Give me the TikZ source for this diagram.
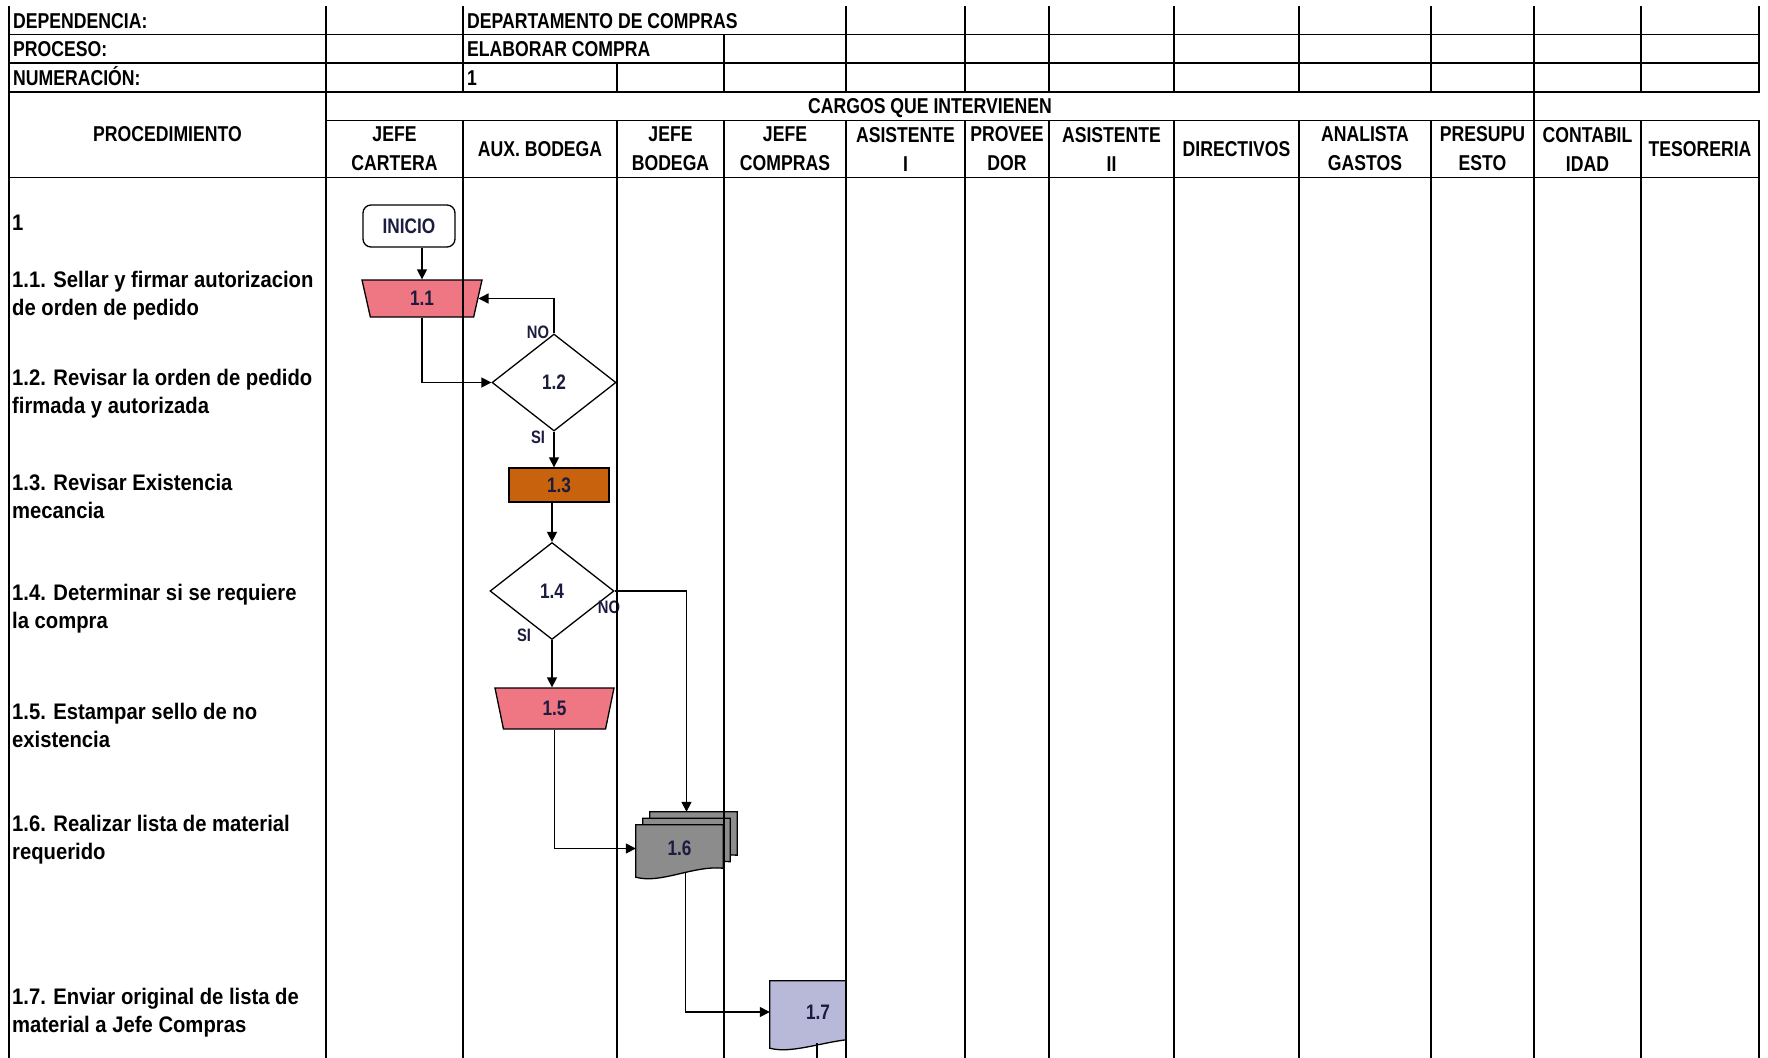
\documentclass[tikz,border=0pt]{standalone}
\usepackage{fontspec}
\setmainfont{Liberation Sans}
\newfontfamily\narrowfont{Liberation Sans}[FakeStretch=0.82]
\newfontfamily\bodyfont{Liberation Sans}[FakeStretch=0.9]
\usetikzlibrary{shapes.geometric,arrows.meta,calc}
\pgfdeclarelayer{paper}
\pgfdeclarelayer{shapes}
\pgfsetlayers{paper,shapes,main}
\definecolor{pinkfill}{HTML}{EF7683}
\definecolor{orangefill}{HTML}{C8620C}
\definecolor{grayfill}{HTML}{8C8C8C}
\definecolor{lavfill}{HTML}{B8B8D8}
\definecolor{navy}{HTML}{1C1C40}
\newcommand\docshape[2]{\draw[shapeline,fill=#2] (#1.north west) -- (#1.north east) -- ($(#1.south east)+(0,-4)$) .. controls ($(#1.south east)+(-30,-7)$) and ($(#1.south west)+(25,12)$) .. ($(#1.south west)+(0,5)$) -- cycle;}
\begin{document}
\begin{tikzpicture}[x=1pt,y=-1pt,
  grid/.style={line width=1.8pt,line cap=rect},
  hdr/.style={font=\narrowfont\bfseries\fontsize{21.5}{29}\selectfont,inner sep=0pt,text=black},
  hdrone/.style={hdr,text height=15pt,text depth=0pt},
  body/.style={font=\bodyfont\bfseries\fontsize{22.5}{28}\selectfont,inner sep=0pt,align=left,anchor=west},
  lbl/.style={font=\narrowfont\bfseries\fontsize{21}{24}\selectfont,text=navy},
  yn/.style={font=\narrowfont\bfseries\fontsize{18}{20}\selectfont,text=navy,inner sep=0pt},
  conn/.style={line width=1.5pt,-{Triangle[length=10pt,width=10pt]}},
  shapeline/.style={draw=black,line width=1.3pt},
  startbox/.style={shapeline,rounded corners=8pt,minimum width=92pt,minimum height=42pt,inner sep=0pt,fill=white},
  decision/.style={shapeline,diamond,fill=white,minimum width=124pt,minimum height=97pt,inner sep=0pt},
  manualop/.style={shapeline,trapezium,trapezium left angle=120,trapezium right angle=120,trapezium stretches body,inner sep=0pt,fill=pinkfill},
  procbox/.style={shapeline,rectangle,minimum width=100pt,minimum height=34pt,inner sep=0pt,fill=orangefill},
  docnode/.style={rectangle,minimum width=87pt,minimum height=47pt,inner sep=0pt},
]
\useasboundingbox (0,0) rectangle (1768,1057);
\begin{pgfonlayer}{paper}
\fill[white] (0,0) rectangle (1768,1057);
\end{pgfonlayer}

% flowchart shapes
\node[startbox,lbl] (inicio) at (409,226) {INICIO};
\node[manualop,minimum width=120pt,minimum height=37pt,lbl] (s11) at (422,298.5) {1.1};
\node[decision,lbl] (s12) at (554,382.5) {1.2};
\node[procbox,lbl] (s13) at (559,485) {1.3};
\node[decision,lbl] (s14) at (552,591) {1.4};
\node[manualop,minimum width=119pt,minimum height=41pt,lbl] (s15) at (554.5,708.5) {1.5};
\node[docnode] (s16c) at (693.5,835.5) {};
\node[docnode] (s16b) at (686.5,842) {};
\node[docnode,lbl] (s16) at (679.5,848.5) {1.6};
\node[docnode,minimum width=96pt,minimum height=62pt,lbl] (s17) at (818,1012) {1.7};
\coordinate (offpage) at (817,1060);

\begin{pgfonlayer}{shapes}
\docshape{s16c}{grayfill}
\docshape{s16b}{grayfill}
\docshape{s16}{grayfill}
\begin{scope}
\clip (760,970) rectangle (846,1057);
\docshape{s17}{lavfill}
\end{scope}
\end{pgfonlayer}

% connectors
\draw[conn] (inicio.south -| s11.north) -- (s11.north);
\draw[conn] (s11.south) |- (s12.west);
\draw[conn] (s12.north) |- (s11);
\draw[conn] (s12.south) -- (s12.south |- s13.north);
\draw[conn] (s13.south -| s14.north) -- (s14.north);
\draw[conn] (s14.south) -- (s14.south |- s15.north);
\draw[conn] (s14.east) -| ([xshift=-7pt]s16c.north);
\draw[conn] (s15.south) |- (s16.west);
\draw[conn] ([xshift=6pt]s16.south) |- (s17.west);
\draw[line width=1.5pt] (s17.south -| offpage) -- (offpage);

\node[yn] (no12) at (538,332) {NO};
\node[yn] (si12) at (538,437) {SI};
\node[yn] (no14) at (609,607) {NO};
\node[yn] (si14) at (524,635) {SI};

% table grid
\draw[grid] (9,7) -- (9,1057);
\draw[grid] (326,7) -- (326,1057);
\draw[grid] (1534,7) -- (1534,1057);
\foreach \x in {463,846,965,1049,1174,1299,1431,1641,1759} {
  \draw[grid] (\x,7) -- (\x,92);
  \draw[grid] (\x,120.5) -- (\x,1057);
}
\draw[grid] (724,34.5) -- (724,92);
\draw[grid] (724,120.5) -- (724,1057);
\draw[grid] (617,63) -- (617,92);
\draw[grid] (617,120.5) -- (617,1057);
\draw[grid] (9,34.5) -- (1759,34.5);
\draw[grid] (9,63) -- (1759,63);
\draw[grid] (9,92) -- (1759,92);
\draw[grid] (326,120.5) -- (1759,120.5);
\draw[grid] (9,177.5) -- (1759,177.5);

% header texts
\node[hdrone,anchor=west] (tdep) at (13,21) {DEPENDENCIA:};
\node[hdrone,anchor=west] (tpro) at (13,49) {PROCESO:};
\node[hdrone,anchor=west] (tnum) at (13,77.5) {NUMERACIÓN:};
\node[hdrone,anchor=west] (vdep) at (467,21) {DEPARTAMENTO DE COMPRAS};
\node[hdrone,anchor=west] (vpro) at (467,49) {ELABORAR COMPRA};
\node[hdrone,anchor=west] (vnum) at (467,77.5) {1};
\node[hdrone] (cargos) at (930,106) {CARGOS QUE INTERVIENEN};
\node[hdrone] (proc) at (167.5,134) {PROCEDIMIENTO};
\foreach \cx/\t [count=\i] in {394.5/{JEFE\\CARTERA},670.5/{JEFE\\BODEGA},785/{JEFE\\COMPRAS},905.5/{ASISTENTE\\I},1007/{PROVEE\\DOR},1111.5/{ASISTENTE\\II},1365/{ANALISTA\\GASTOS},1482.5/{PRESUPU\\ESTO},1587.5/{CONTABIL\\IDAD}}
  \node[hdr,align=center] (colhead\i) at (\cx,149) {\t};
\node[hdrone] (colaux) at (540,149) {AUX. BODEGA};
\node[hdrone] (coldir) at (1236.5,149) {DIRECTIVOS};
\node[hdrone] (coltes) at (1700,149) {TESORERIA};

% procedure texts
\node[body] (p1) at (12,223) {1};
\node[body] (p11) at (12,296) {1.1. Sellar y firmar autorizacion\\de orden de pedido};
\node[body] (p12) at (12,394) {1.2. Revisar la orden de pedido\\firmada y autorizada};
\node[body] (p13) at (12,496) {1.3. Revisar Existencia\\mecancia};
\node[body] (p14) at (12,609) {1.4. Determinar si se requiere\\la compra};
\node[body] (p15) at (12,725) {1.5. Estampar sello de no\\existencia};
\node[body] (p16) at (12,840) {1.6. Realizar lista de material\\requerido};
\node[body] (p17) at (12,1013) {1.7. Enviar original de lista de\\material a Jefe Compras};
\end{tikzpicture}
\end{document}
